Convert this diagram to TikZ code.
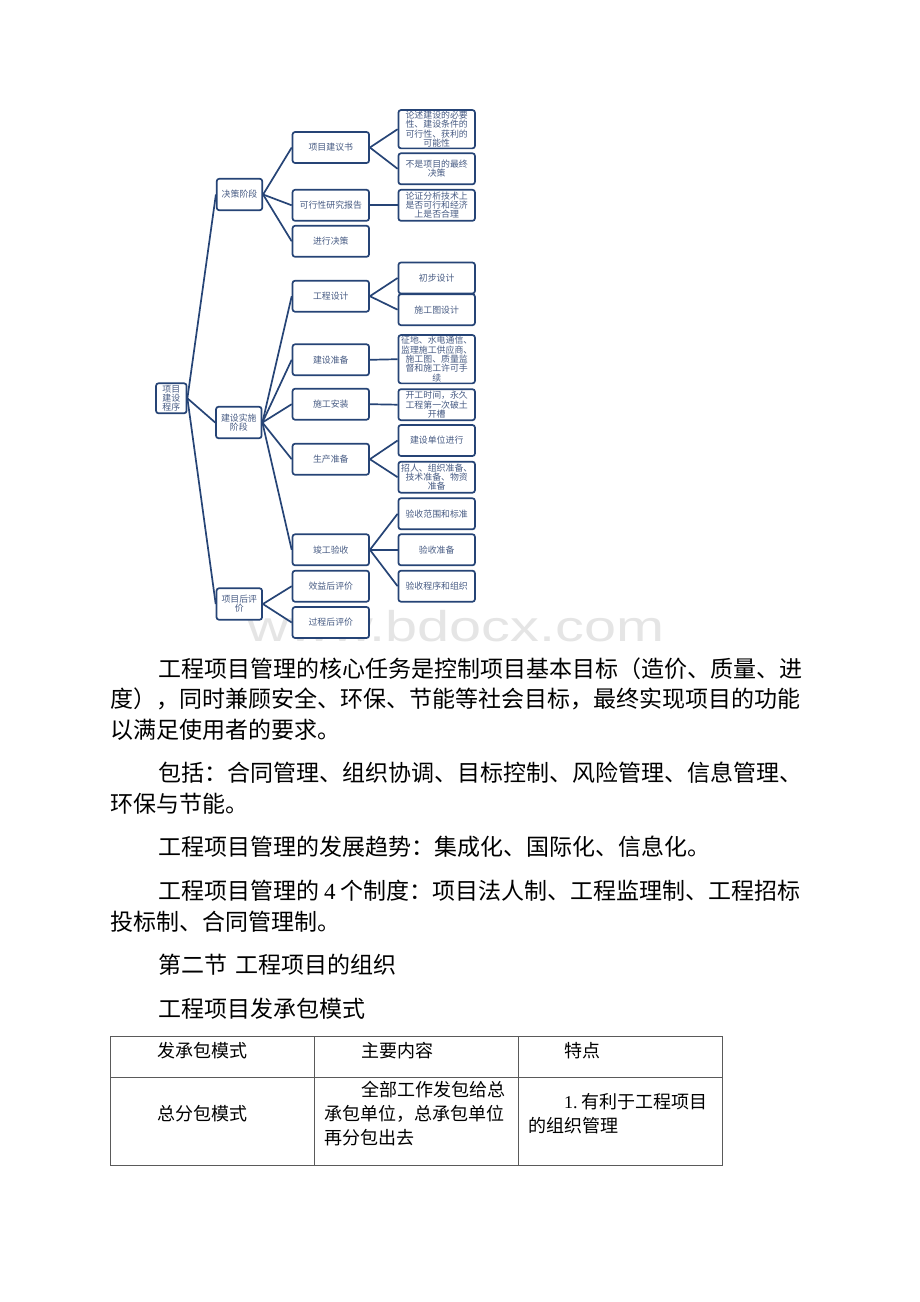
\documentclass[tikz,border=0pt]{standalone}
\usepackage{fontspec}
\setmainfont{Liberation Serif}
\newfontfamily\cjk{Noto Sans CJK SC}
\newfontfamily\marca{Liberation Sans}
\usepackage{xcolor}
\usepackage{graphicx}
\usepackage{tikz}
\usetikzlibrary{positioning}

\definecolor{azulborda}{RGB}{38,68,118}
\definecolor{azultexto}{RGB}{72,92,132}
\definecolor{linhatab}{RGB}{90,90,90}

\tikzset{
  caixa/.style={draw=azulborda, line width=1.7pt, rounded corners=2.5pt, fill=white,
    text=azultexto, font=\cjk\fontsize{8.9pt}{9.3pt}\selectfont, align=center,
    inner sep=0.3pt, minimum width=76.5pt, minimum height=31pt},
  fase/.style={caixa, minimum width=45.5pt, minimum height=31.5pt},
  ligacao/.style={draw=azulborda, line width=1.7pt},
  texto/.style={anchor=base west, inner sep=0pt, font=\cjk\fontsize{23pt}{23pt}\selectfont},
  celula/.style={anchor=base west, inner sep=0pt, font=\cjk\fontsize{18pt}{18pt}\selectfont},
}

\begin{document}
\begin{tikzpicture}[x=1pt,y=-1pt]

% Fundo da pagina
\fill[white] (0,0) rectangle (920,1302);
\useasboundingbox (0,0) rectangle (920,1302);

% Marca d'agua
\node[anchor=base, inner sep=0pt, text=gray!20, font=\marca\fontsize{43pt}{43pt}\selectfont] (marca) at (456,641) {\scalebox{1.34}[1]{www.bdocx.com}};

% Raiz e fases
\node[caixa, minimum width=30.5pt, minimum height=30pt] (raiz) at (171.3,398.3) {项目\\建设\\程序};
\node[fase] (decisao) at (239.5,194.5) {决策阶段};
\node[fase] (execucao) at (238.8,422.5) {建设实施\\阶段};
\node[fase] (posaval) at (239.3,604) {项目后评\\价};

% Coluna do meio
\node[caixa] (proposta) at (330.8,147.5) {项目建议书};
\node[caixa] (viabilidade) at (330.8,205.3) {可行性研究报告};
\node[caixa] (decidir) at (330.8,241.3) {进行决策};
\node[caixa] (projeto) at (330.8,296.2) {工程设计};
\node[caixa] (preparo) at (330.8,359.8) {建设准备};
\node[caixa] (montagem) at (330.8,404.2) {施工安装};
\node[caixa] (producao) at (330.8,459.2) {生产准备};
\node[caixa] (entrega) at (330.8,549.8) {竣工验收};
\node[caixa] (beneficio) at (330.8,586.2) {效益后评价};
\node[caixa] (processo) at (330.8,622.5) {过程后评价};

% Coluna da direita
\node[caixa, minimum height=38.3pt] (necess) at (436.7,129.2) {论述建设的必要\\性、建设条件的\\可行性、获利的\\可能性};
\node[caixa] (naofinal) at (436.7,168.8) {不是项目的最终\\决策};
\node[caixa] (analise) at (436.7,205.3) {论证分析技术上\\是否可行和经济\\上是否合理};
\node[caixa] (inicial) at (436.7,278) {初步设计};
\node[caixa] (desenho) at (436.7,309.7) {施工图设计};
\node[caixa, minimum height=48.3pt] (terreno) at (436.7,359.2) {征地、水电通信、\\监理施工供应商、\\施工图、质量监\\督和施工许可手\\续};
\node[caixa] (inicio) at (436.7,404.7) {开工时间，永久\\工程第一次破土\\开槽};
\node[caixa] (unidade) at (436.7,440.5) {建设单位进行};
\node[caixa] (pessoal) at (436.7,477.2) {招人、组织准备、\\技术准备、物资\\准备};
\node[caixa] (escopo) at (436.7,513.8) {验收范围和标准};
\node[caixa] (prepaceite) at (436.7,549.8) {验收准备};
\node[caixa] (procaceite) at (436.7,586.2) {验收程序和组织};

% Ligacoes
\foreach \filho in {decisao,execucao,posaval}
  \draw[ligacao] (raiz.east) -- (\filho.west);
\foreach \filho in {proposta,viabilidade,decidir}
  \draw[ligacao] (decisao.east) -- (\filho.west);
\foreach \filho in {projeto,preparo,montagem,producao,entrega}
  \draw[ligacao] (execucao.east) -- (\filho.west);
\foreach \filho in {beneficio,processo}
  \draw[ligacao] (posaval.east) -- (\filho.west);
\foreach \filho in {necess,naofinal}
  \draw[ligacao] (proposta.east) -- (\filho.west);
\draw[ligacao] (viabilidade.east) -- (analise.west);
\foreach \filho in {inicial,desenho}
  \draw[ligacao] (projeto.east) -- (\filho.west);
\draw[ligacao] (preparo.east) -- (terreno.west);
\draw[ligacao] (montagem.east) -- (inicio.west);
\foreach \filho in {unidade,pessoal}
  \draw[ligacao] (producao.east) -- (\filho.west);
\foreach \filho in {escopo,prepaceite,procaceite}
  \draw[ligacao] (entrega.east) -- (\filho.west);

% Paragrafos
\node[texto] (p1a) at (158,677) {工程项目管理的核心任务是控制项目基本目标（造价、质量、进};
\node[texto] (p1b) at (110,707.5) {度），同时兼顾安全、环保、节能等社会目标，最终实现项目的功能};
\node[texto] (p1c) at (110,738) {以满足使用者的要求。};
\node[texto] (p2a) at (158,781) {包括：合同管理、组织协调、目标控制、风险管理、信息管理、};
\node[texto] (p2b) at (110,812) {环保与节能。};
\node[texto] (p3) at (158,855) {工程项目管理的发展趋势：集成化、国际化、信息化。};
\node[texto] (p4a) at (158,899) {工程项目管理的\hspace{5pt}{\rmfamily 4}\hspace{5pt}个制度：项目法人制、工程监理制、工程招标};
\node[texto] (p4b) at (110,930) {投标制、合同管理制。};
\node[texto] (secao) at (158,973) {第二节\hspace{8pt}工程项目的组织};
\node[texto] (titulo) at (158,1017) {工程项目发承包模式};

% Tabela
\draw[linhatab, line width=0.9pt] (110,1036) rectangle (722,1165);
\draw[linhatab, line width=0.9pt] (110,1077) -- (722,1077);
\draw[linhatab, line width=0.9pt] (314,1036) -- (314,1165);
\draw[linhatab, line width=0.9pt] (518,1036) -- (518,1165);

\node[celula] (cab1) at (157,1057) {发承包模式};
\node[celula] (cab2) at (361,1057) {主要内容};
\node[celula] (cab3) at (564,1057) {特点};
\node[celula] (modo) at (157,1120) {总分包模式};
\node[celula] (cont1) at (361,1096) {全部工作发包给总};
\node[celula] (cont2) at (324,1120) {承包单位，总承包单位};
\node[celula] (cont3) at (324,1144) {再分包出去};
\node[celula] (carac1) at (564,1108) {{\rmfamily 1.}\hspace{4pt}有利于工程项目};
\node[celula] (carac2) at (528,1132) {的组织管理};

\end{tikzpicture}
\end{document}
